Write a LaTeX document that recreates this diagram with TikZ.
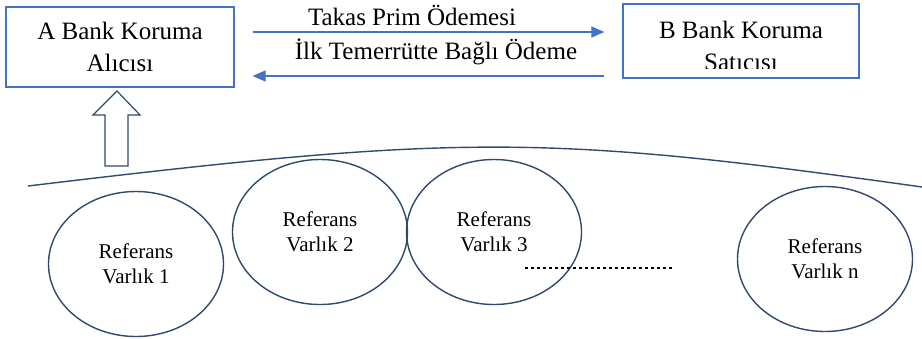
\documentclass[tikz,border=0pt]{standalone}
\usepackage{fontspec}
\setmainfont{Liberation Serif}
\usepackage{tikz}
\usetikzlibrary{arrows.meta,positioning,shapes.geometric}
\usepackage{xcolor}
\definecolor{flowblue}{HTML}{4472C4}
\definecolor{navy}{HTML}{2F4A6D}

\begin{document}
\begin{tikzpicture}[x=1pt,y=1pt,
    bankbox/.style={draw=flowblue,line width=1.2pt,minimum width=228pt,minimum height=80pt,
      inner sep=0pt,align=center,font=\fontsize{25}{32}\selectfont},
    flow/.style={draw=flowblue,line width=1.2pt,-{Triangle[length=13pt,width=11pt]},
      shorten <=18pt,shorten >=18pt},
    flowlab/.style={font=\fontsize{25}{30}\selectfont,inner sep=0pt},
    refnode/.style={ellipse,draw=navy,line width=1.4pt,minimum width=175pt,minimum height=145pt,
      inner sep=0pt,align=center,font=\fontsize{21}{25}\selectfont}]
  \useasboundingbox (0,0) rectangle (922,-338);
  % banks
  \node[bankbox] (bankA) at (120,-47) {A Bank Koruma\\Alıcısı};
  \node[bankbox,minimum width=236pt,minimum height=74pt] (bankB) at (741,-41) {};
  \begin{scope}
    \clip (623,-4) rectangle (859,-68);
    \node[bankbox,draw=none] (bankBtxt) at (741,-46) {B Bank Koruma\\Satıcısı};
  \end{scope}
  % payments
  \draw[flow] (bankA.east |- 0,-32) -- (bankB.west |- 0,-32);
  \draw[flow] (bankB.west |- 0,-76) -- (bankA.east |- 0,-76);
  \node[flowlab] (prim) at (412,-15) {Takas Prim Ödemesi};
  \node[flowlab] (odeme) at (436,-52) {İlk Temerrütte Bağlı Ödeme};
  % hollow arrow to buyer
  \draw[navy,line width=1.2pt,line join=miter,fill=white]
    (117,-91) -- (140,-115) -- (128,-115) -- (128,-166) -- (105,-166) -- (105,-115) -- (93,-115) -- cycle;
  % pool curve
  \draw[navy,line width=1.4pt] (28,-186) .. controls (461,-134) and (544,-134) .. (922,-187);
  % reference assets
  \foreach \nm/\cx/\cy/\lab in {ref1/136/264/1, ref2/320/232/2, ref3/494/232/3, refn/825/259/n}
    \node[refnode] (\nm) at (\cx,-\cy) {Referans\\Varlık \lab};
  \draw[line width=2.8pt,dash pattern=on 2.6pt off 3.4pt] (525,-268) -- (674,-268);
\end{tikzpicture}
\end{document}
